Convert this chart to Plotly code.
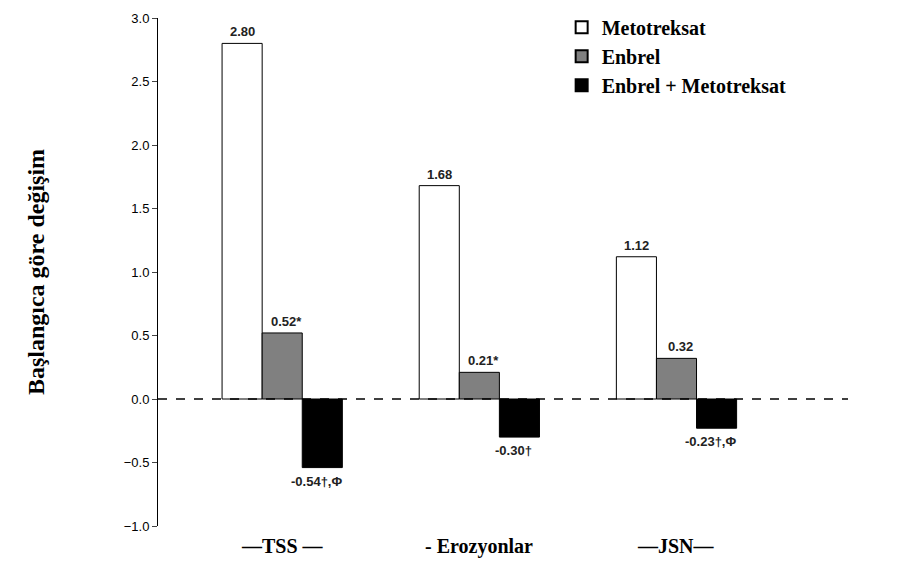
import plotly.graph_objects as go

groups = [0, 1, 2]
group_names = ["TSS", "Erozyonlar", "JSN"]
metotreksat = [2.80, 1.68, 1.12]
enbrel = [0.52, 0.21, 0.32]
combo = [-0.54, -0.30, -0.23]
lbl_m = ["2.80", "1.68", "1.12"]
lbl_e = ["0.52*", "0.21*", "0.32"]
lbl_c = ["-0.54†,Φ", "-0.30†", "-0.23†,Φ"]

fig = go.Figure()
fig.add_bar(x=groups, y=metotreksat, name="<b>Metotreksat</b>", marker=dict(color="white", line=dict(color="black", width=1)))
fig.add_bar(x=groups, y=enbrel, name="<b>Enbrel</b>", marker=dict(color="#808080", line=dict(color="black", width=1)))
fig.add_bar(x=groups, y=combo, name="<b>Enbrel + Metotreksat</b>", marker=dict(color="black", line=dict(color="black", width=1)))

# value labels (bars are offset by one bar width inside each group)
bw = 0.61 / 3
lab_font = dict(family="Arial", size=13, color="#222")
for i, g in enumerate(groups):
    fig.add_annotation(x=g - bw, y=metotreksat[i], text="<b>" + lbl_m[i] + "</b>", showarrow=False,
                       yanchor="bottom", yshift=2, font=lab_font)
    fig.add_annotation(x=g, y=enbrel[i], text="<b>" + lbl_e[i] + "</b>", showarrow=False,
                       yanchor="bottom", yshift=2, xshift=4, font=lab_font)
    fig.add_annotation(x=g + bw, y=combo[i], text="<b>" + lbl_c[i] + "</b>", showarrow=False,
                       yanchor="top", yshift=-4, xshift=-6, font=lab_font)

names_txt = ["—TSS —", "- Erozyonlar", "—JSN—"]
for g, t in zip(groups, names_txt):
    fig.add_annotation(x=g, y=-1.0, yshift=-20, text="<b>" + t + "</b>", showarrow=False,
                       font=dict(family="Liberation Serif", size=20, color="black"))

fig.add_shape(type="line", xref="paper", x0=0, x1=1, y0=0, y1=0,
              line=dict(color="black", width=1.5, dash="dash"))

fig.update_layout(
    width=905, height=562, plot_bgcolor="white", paper_bgcolor="white",
    margin=dict(l=150, r=65, t=10, b=44, autoexpand=False),
    barmode="group", bargap=0.39, bargroupgap=0,
    font=dict(family="Arial", color="black"),
    legend=dict(x=0.585, y=1.02, xanchor="left", yanchor="top", tracegroupgap=0,
                font=dict(family="Liberation Serif", size=20, color="black"),
                itemsizing="constant", bgcolor="rgba(0,0,0,0)"),
    xaxis=dict(range=[-0.63, 2.87], showticklabels=False, showgrid=False, zeroline=False, showline=False),
    yaxis=dict(range=[-1.0, 3.0], dtick=0.5, tickformat=".1f", showgrid=False, zeroline=False,
               showline=True, linecolor="black", ticks="outside", ticklen=5,
               tickfont=dict(family="Arial", size=13),
               title=dict(text="<b>Başlangıca göre değişim</b>", standoff=72,
                          font=dict(family="Liberation Serif", size=24))),
)
fig.write_html("out.html")
